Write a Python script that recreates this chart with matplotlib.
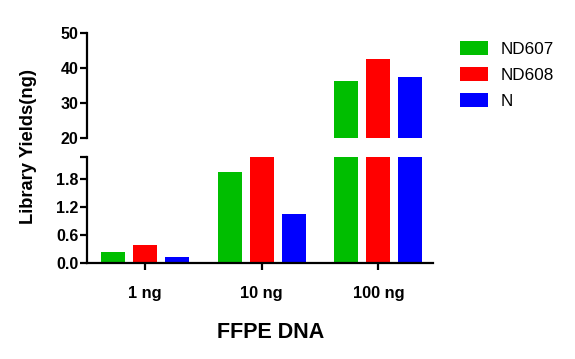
import matplotlib
matplotlib.use("Agg")
import matplotlib.pyplot as plt
import numpy as np

categories = ["1 ng", "10 ng", "100 ng"]
series_names = ["ND607", "ND608", "N"]
nd607 = [0.25, 1.95, 36.4]
nd608 = [0.39, 2.35, 42.6]
n_vals = [0.14, 1.05, 37.4]
colors = ["#00BE00", "#FF0000", "#0000FF"]
low_ticks = [0.0, 0.6, 1.2, 1.8]
high_ticks = [20, 30, 40, 50]

plt.rcParams['font.family'] = ['Liberation Sans', 'DejaVu Sans']

fig = plt.figure(figsize=(5.75, 3.59), dpi=100)
left, width = 0.1513, 0.6017
ax_lo = fig.add_axes([left, 0.2666, width, 0.2969])
ax_hi = fig.add_axes([left, 0.6148, width, 0.2924])

x = np.arange(len(categories))
pitch = 0.274
bw = 0.206
series = [nd607, nd608, n_vals]
handles = []
for i, (vals, c, name) in enumerate(zip(series, colors, series_names)):
    pos = x + (i - 1) * pitch
    h = ax_lo.bar(pos, vals, width=bw, color=c, label=name, linewidth=0)
    ax_hi.bar(pos, vals, width=bw, color=c, linewidth=0)
    handles.append(h)

lo_top = 2.28
for ax in (ax_lo, ax_hi):
    ax.set_xlim(-0.497, 2.468)
    for s in ("top", "right"):
        ax.spines[s].set_visible(False)
    ax.spines["left"].set_linewidth(1.6)
    ax.tick_params(axis="y", width=1.6, length=5, labelsize=11.5, pad=1)

ax_lo.set_ylim(0, lo_top)
ax_lo.set_yticks(low_ticks + [lo_top])
ax_lo.set_yticklabels([f"{t:.1f}" for t in low_ticks] + [""], fontweight="bold")
ax_lo.spines["bottom"].set_linewidth(1.6)
ax_lo.set_xticks(x)
ax_lo.set_xticklabels(categories, fontweight="bold", fontsize=11.8)
ax_lo.tick_params(axis="x", width=1.6, length=5, pad=11)

ax_hi.set_ylim(20, 50)
ax_hi.set_yticks(high_ticks)
ax_hi.set_yticklabels([str(t) for t in high_ticks], fontweight="bold")
ax_hi.spines["bottom"].set_visible(False)
ax_hi.set_xticks([])

fig.text(29 / 575, 1 - 147 / 359, "Library Yields(ng)", rotation=90,
         ha="center", va="center", fontsize=13.2, fontweight="bold")
fig.text(271 / 575, 1 - 332 / 359, "FFPE DNA", ha="center", va="center",
         fontsize=15.5, fontweight="bold")

fig.legend(handles=handles, labels=series_names, loc="upper left",
           bbox_to_anchor=(453 / 575, 1 - 34 / 359), frameon=False,
           fontsize=12.3, handlelength=1.64, handleheight=0.88,
           labelspacing=0.6, handletextpad=0.76, borderaxespad=0)

fig.savefig("out.png", dpi=100)
